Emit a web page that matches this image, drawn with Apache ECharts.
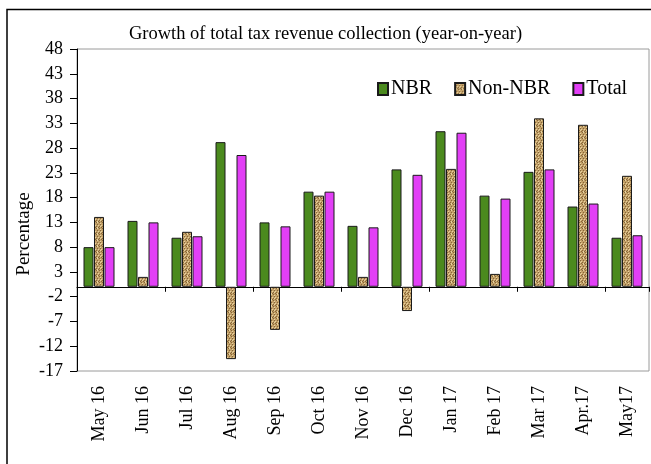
<!DOCTYPE html>
<html>
<head>
<meta charset="utf-8">
<script src="https://cdn.jsdelivr.net/npm/echarts@6/dist/echarts.min.js"></script>
<style>
  html, body { margin: 0; padding: 0; background: #fff; }
  #chart { width: 651px; height: 464px; }
</style>
</head>
<body>
<div id="chart"></div>
<script>
// months on the x axis
const months = ['May 16', 'Jun 16', 'Jul 16', 'Aug 16', 'Sep 16', 'Oct 16', 'Nov 16',
  'Dec 16', 'Jan 17', 'Feb 17', 'Mar 17', 'Apr.17', 'May17'];
// growth values (%)
const nbr = [8.0, 13.3, 9.9, 29.2, 13.0, 19.2, 12.3, 23.7, 31.4, 18.4, 23.2, 16.2, 9.9];
const nonNbr = [14.1, 2.0, 11.1, -14.6, -8.7, 18.4, 2.0, -4.9, 23.8, 2.6, 34.0, 32.7, 22.4];
const total = [8.0, 13.0, 10.2, 26.6, 12.2, 19.2, 12.0, 22.6, 31.1, 17.8, 23.7, 16.8, 10.4];

const serif = '"Liberation Serif", "DejaVu Serif", serif';

// small burlap-like texture for the Non-NBR bars
function makeTexture() {
  const c = document.createElement('canvas');
  c.width = 6; c.height = 6;
  const ctx = c.getContext('2d');
  ctx.fillStyle = '#c2a068';
  ctx.fillRect(0, 0, 6, 6);
  ctx.fillStyle = '#866639';
  [[0, 0], [3, 0], [1, 2], [4, 2], [0, 4], [3, 4], [5, 5], [2, 5]].forEach(p => ctx.fillRect(p[0], p[1], 1, 1));
  ctx.fillStyle = '#e6d2a0';
  [[1, 0], [4, 1], [2, 3], [5, 3], [1, 5], [4, 4]].forEach(p => ctx.fillRect(p[0], p[1], 1, 1));
  return c;
}

const chart = echarts.init(document.getElementById('chart'));

chart.setOption({
  animation: false,
  title: {
    text: 'Growth of total tax revenue collection (year-on-year)',
    left: 'center',
    top: 20,
    textStyle: { fontFamily: serif, fontSize: 18.5, fontWeight: 'normal', color: '#000' }
  },
  legend: {
    left: 372,
    top: 74,
    itemWidth: 10,
    itemHeight: 12,
    itemGap: 22,
    icon: 'rect',
    textStyle: { fontFamily: serif, fontSize: 20, color: '#000', padding: [0, 0, 0, -2] }
  },
  grid: {
    left: 77, right: 2, top: 49, bottom: 93,
    show: true, borderColor: '#9a9a9a', borderWidth: 1
  },
  xAxis: [{
    type: 'category',
    data: months,
    axisLine: { onZero: true, lineStyle: { color: '#000', width: 1 } },
    axisTick: { show: true, length: 5, lineStyle: { color: '#000' } },
    axisLabel: { show: false }
  }, {
    type: 'category',
    data: months,
    position: 'bottom',
    axisLine: { show: false, onZero: false },
    axisTick: { show: false },
    axisLabel: {
      rotate: 90, margin: 15,
      fontFamily: serif, fontSize: 18, color: '#000'
    }
  }],
  yAxis: {
    type: 'value',
    min: -17,
    max: 48,
    interval: 5,
    splitLine: { show: false },
    axisLine: { show: true, lineStyle: { color: '#000', width: 1 } },
    axisTick: { show: true, length: 7, lineStyle: { color: '#000' } },
    axisLabel: { fontFamily: serif, fontSize: 18, color: '#000', margin: 14 }
  },
  series: [{
    name: 'NBR',
    type: 'bar',
    data: nbr,
    barWidth: 10,
    barGap: '5%',
    itemStyle: { color: '#4b8a1e', borderColor: '#1a1a1a', borderWidth: 1 }
  }, {
    name: 'Non-NBR',
    type: 'bar',
    data: nonNbr,
    barWidth: 10,
    barGap: '5%',
    itemStyle: {
      color: { image: makeTexture(), repeat: 'repeat' },
      borderColor: '#1a1a1a', borderWidth: 1
    }
  }, {
    name: 'Total',
    type: 'bar',
    data: total,
    barWidth: 10,
    barGap: '5%',
    itemStyle: { color: '#e23ff6', borderColor: '#1a1a1a', borderWidth: 1 }
  }],
  graphic: [{
    type: 'rect',
    shape: { x: 7, y: 9.5, width: 700, height: 500 },
    style: { fill: 'none', stroke: '#000', lineWidth: 1.5 },
    silent: true
  }, {
    type: 'text',
    x: 24,
    y: 234,
    rotation: Math.PI / 2,
    style: {
      text: 'Percentage',
      font: '19px ' + serif,
      fill: '#000',
      textAlign: 'center',
      textVerticalAlign: 'middle'
    },
    silent: true
  }]
});
</script>
</body>
</html>
